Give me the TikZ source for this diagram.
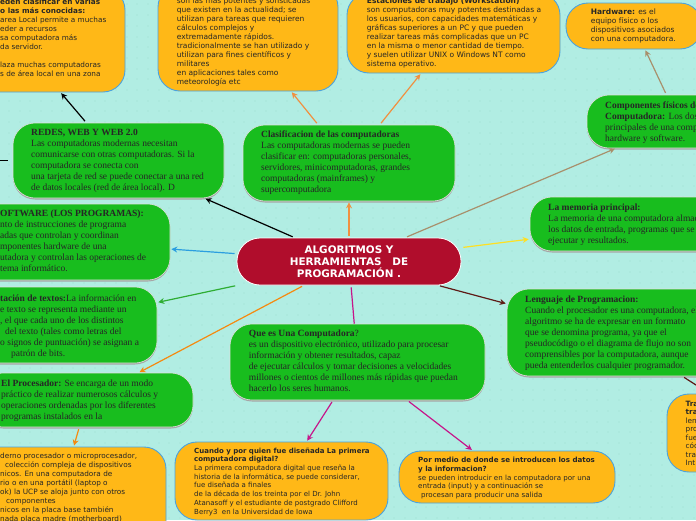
\documentclass[tikz,border=0pt]{standalone}
\usepackage{fontspec}
\setmainfont{Liberation Serif}
\newfontfamily\versofont{DejaVu Sans}
\usetikzlibrary{arrows.meta,shadows}
\definecolor{fondo}{HTML}{B1EDE3}
\definecolor{punto}{HTML}{ACE9DE}
\definecolor{verde}{HTML}{18BD1E}
\definecolor{naranja}{HTML}{FFB817}
\definecolor{azulborde}{HTML}{4AA3DF}
\definecolor{rojo}{HTML}{B00D2C}
\definecolor{cafe}{HTML}{A8906C}
\definecolor{amarillo}{HTML}{FFE022}
\definecolor{azul}{HTML}{2C9FE0}
\definecolor{pasto}{HTML}{2EAD33}
\definecolor{mandarina}{HTML}{F58A10}
\definecolor{salmon}{HTML}{F09040}
\definecolor{vino}{HTML}{5E1A16}
\definecolor{fucsia}{HTML}{C6158A}
\tikzset{
  greenbox/.style={rectangle, rounded corners=22pt, fill=verde, draw=white!75!gray, line width=0.6pt,
    copy shadow={shadow xshift=0pt, shadow yshift=-1.5pt, fill=gray!70, draw=none}},
  orangebox/.style={rectangle, rounded corners=22pt, fill=naranja, draw=azulborde, line width=0.9pt},
  greentext/.style={anchor=north west, inner sep=0pt, align=left, text=black!85,
    font=\fontsize{9.5}{11}\selectfont},
  orangetext/.style 2 args={anchor=north west, inner sep=0pt, align=left, text=black!85,
    font=\versofont\fontsize{#1}{#2}\selectfont},
  conn/.style={line width=1.2pt, shorten <=2pt, shorten >=1pt, -{Stealth[length=6pt,width=6pt]}},
}
\begin{document}
\begin{tikzpicture}[x=1pt,y=-1pt]
    \clip (0,0) rectangle (696,520);
    \fill[fondo] (0,0) rectangle (696,520);
    \foreach \i in {0,...,65} \foreach \j in {0,...,48} \fill[punto] (8.9+10.7*\i-1,4.4+10.7*\j-1) rectangle ++(2,2);

    % orange boxes
    \node[orangebox, minimum width=218pt, minimum height=104pt] (redeslan) at (16,40) {};
    \node[orangebox, minimum width=180pt, minimum height=106pt] (super) at (248,38) {};
    \node[orangebox, minimum width=213pt, minimum height=80pt] (estaciones) at (453.5,33) {};
    \node[orangebox, minimum width=136pt, minimum height=46pt] (hardware) at (634,26) {};
    \node[orangebox, minimum width=212pt, minimum height=96pt] (ucp) at (60,495) {};
    \node[orangebox, minimum width=213pt, minimum height=78pt] (cuando) at (281.5,481) {};
    \node[orangebox, minimum width=216pt, minimum height=52pt] (pormedio) at (507,477) {};
    \node[orangebox, minimum width=208pt, minimum height=78pt] (traductor) at (771,433) {};

    % green boxes
    \node[greenbox, minimum width=211pt, minimum height=75pt] (redes) at (118.5,160.5) {};
    \node[greenbox, minimum width=212pt, minimum height=76pt] (clasif) at (349,163) {};
    \node[greenbox, minimum width=184pt, minimum height=53pt] (fisicos) at (679,121.5) {};
    \node[greenbox, minimum width=202pt, minimum height=76pt] (software) at (69,242) {};
    \node[greenbox, minimum width=212pt, minimum height=76pt] (textos) at (51,325) {};
    \node[greenbox, minimum width=212pt, minimum height=54pt] (procesador) at (87,400) {};
    \node[greenbox, minimum width=244pt, minimum height=54pt] (memoria) at (652,224) {};
    \node[greenbox, minimum width=214pt, minimum height=87pt] (lenguaje) at (614,332.5) {};
    \node[greenbox, minimum width=255pt, minimum height=76pt] (quees) at (357.5,362) {};

    % central
    \node[rectangle, rounded corners=23pt, fill=rojo, draw=white, line width=0.8pt,
      minimum width=224pt, minimum height=47pt, text=white, align=center,
      font=\versofont\bfseries\fontsize{10.4}{12}\selectfont] (central) at (349,261.5)
      {ALGORITMOS Y\\HERRAMIENTAS\ \ \ DE\\PROGRAMACIÓN .};

    \foreach \a/\b/\c in {central/redes/black, central/clasif/salmon, central/fisicos/cafe,
      central/software/azul, central/textos/pasto, central/procesador/mandarina,
      central/memoria/amarillo, central/lenguaje/vino, redes/redeslan/black,
      clasif/super/salmon, clasif/estaciones/salmon, fisicos/hardware/cafe,
      procesador/ucp/mandarina, quees/cuando/fucsia, quees/pormedio/fucsia,
      lenguaje/traductor/vino}
      \draw[conn, \c] (\a) -- (\b);
    \draw[line width=1.2pt, fucsia, shorten <=2pt] (central) -- (quees);
    \coordinate (redesfin) at (-20,160.5);
    \draw[line width=1.2pt, black, shorten <=5pt] (redes) -- (redesfin);

    % texts
    \node[orangetext={7.3}{9}] (redeslantxt) at (0,-1.5) {\textbf{eden clasificar en varias}\\\textbf{o las más conocidas:}\\area Local permite a muchas\\eder a recursos\\sa computadora más\\da servidor.\\[9pt]laza muchas computadoras\\s de área local en una zona};
    \node[orangetext={7.5}{9}] (supertxt) at (176.7,-2.5) {son las más potentes y sofisticadas\\que existen en la actualidad; se\\utilizan para tareas que requieren\\cálculos complejos y\\extremadamente rápidos.\\tradicionalmente se han utilizado y\\utilizan para fines científicos y\\militares\\en aplicaciones tales como\\meteorología etc};
    \node[orangetext={7.5}{9}] (estacionestxt) at (366.7,-2.5) {\textbf{Estaciones de trabajo (Workstation)}\\son computadoras muy potentes destinadas a\\los usuarios, con capacidades matemáticas y\\gráficas superiores a un PC y que pueden\\realizar tareas más complicadas que un PC\\en la misma o menor cantidad de tiempo.\\y suelen utilizar UNIX o Windows NT como\\sistema operativo.};
    \node[orangetext={7.5}{9}] (hardwaretxt) at (590.7,9) {\textbf{Hardware:} es el\\equipo físico o los\\dispositivos asociados\\con una computadora.};
    \node[orangetext={7.3}{9}] (ucptxt) at (0,452.5) {derno procesador o microprocesador,\\\hspace*{5pt}colección compleja de dispositivos\\nicos. En una computadora de\\rio o en una portátil (laptop o\\ok) la UCP se aloja junto con otros\\\hspace*{6pt}componentes\\nicos en la placa base también\\nada placa madre (motherboard)};
    \node[orangetext={7}{8.7}] (cuandotxt) at (194,447.5) {\textbf{Cuando y por quien fue diseñada La primera}\\\textbf{computadora digital?}\\La primera computadora digital que reseña la\\historia de la informática, se puede considerar,\\fue diseñada a finales\\de la década de los treinta por el Dr. John\\Atanasoff y el estudiante de postgrado Clifford\\Berry3\ \ en la Universidad de Iowa};
    \node[orangetext={7.1}{8.7}] (pormediotxt) at (418,457) {\textbf{Por medio de donde se introducen los datos}\\\textbf{y la informacion?}\\se pueden introducir en la computadora por una\\entrada (input) y a continuación se\\\hspace*{3pt}procesan para producir una salida};
    \node[orangetext={7.3}{8.5}] (traductortxt) at (685.5,400.5) {\textbf{Tra}\\\textbf{tra}\\len\\pro\\fue\\cód\\tra\\Int};

    \node[greentext] (redestxt) at (31,129) {\textbf{REDES, WEB Y WEB 2.0}\\Las computadoras modernas necesitan\\comunicarse con otras computadoras. Si la\\computadora se conecta con\\una tarjeta de red se puede conectar a una red\\de datos locales (red de área local). D};
    \node[greentext] (clasiftxt) at (261,131) {\textbf{Clasificacion de las computadoras}\\Las computadoras modernas se pueden\\clasificar en: computadoras personales,\\servidores, minicomputadoras, grandes\\computadoras (mainframes) y\\supercomputadora};
    \node[greentext] (fisicostxt) at (605,101.5) {\textbf{Componentes físicos de}\\\textbf{Computadora:} Los dos\\principales de una comp\\hardware y software.};
    \node[greentext] (softwaretxt) at (0,209.5) {\textbf{OFTWARE (LOS PROGRAMAS):}\\nto de instrucciones de programa\\adas que controlan y coordinan\\mponentes hardware de una\\utadora y controlan las operaciones de\\tema informático.};
    \node[greentext] (textostxt) at (0,294.5) {\textbf{tación de textos:}La información en\\e texto se representa mediante un\\, el que cada uno de los distintos\\\hspace*{5pt}del texto (tales como letras del\\o signos de puntuación) se asignan a\\\hspace*{11pt}patrón de bits.};
    \node[greentext] (procesadortxt) at (1,380) {\textbf{El Procesador:} Se encarga de un modo\\práctico de realizar numerosos cálculos y\\operaciones ordenadas por los diferentes\\programas instalados en la};
    \node[greentext] (memoriatxt) at (548,203.5) {\textbf{La memoria principal:}\\La memoria de una computadora almac\\los datos de entrada, programas que se\\ejecutar y resultados.};
    \node[greentext] (lenguajetxt) at (525,295.5) {\textbf{Lenguaje de Programacion:}\\Cuando el procesador es una computadora, el\\algoritmo se ha de expresar en un formato\\que se denomina programa, ya que el\\pseudocódigo o el diagrama de flujo no son\\comprensibles por la computadora, aunque\\pueda entenderlos cualquier programador.};
    \node[greentext] (queestxt) at (248.7,329.5) {\textbf{Que es Una Computadora}?\\es un dispositivo electrónico, utilizado para procesar\\información y obtener resultados, capaz\\de ejecutar cálculos y tomar decisiones a velocidades\\millones o cientos de millones más rápidas que puedan\\hacerlo los seres humanos.};
\end{tikzpicture}
\end{document}
